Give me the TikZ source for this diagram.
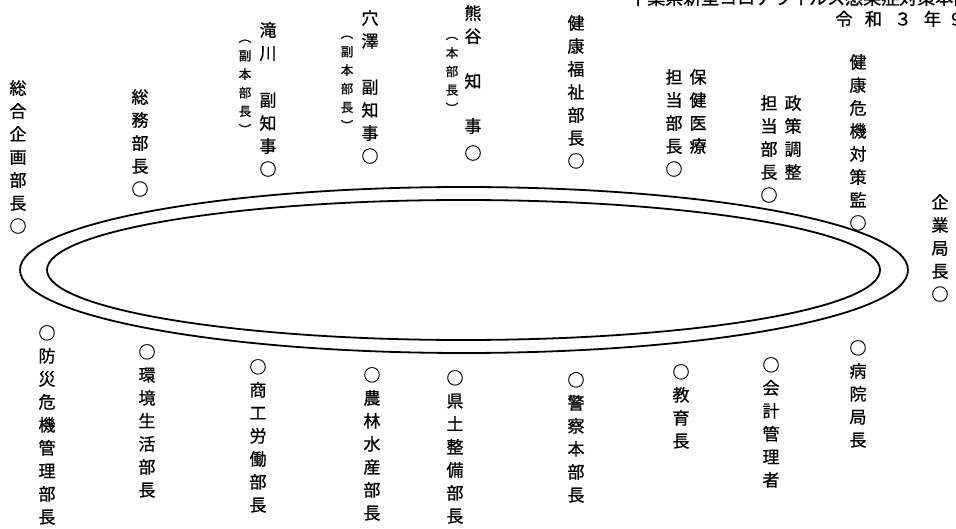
\documentclass[tikz,border=0pt]{standalone}
\usepackage{fontspec}
\setmainfont{Noto Sans CJK JP}[FakeBold=0.8]
\tikzset{
  tate/.style={font=\fontsize{17}{23}\selectfont, align=center, inner sep=0pt, anchor=north},
  tatesmall/.style={font=\fontsize{12.5}{18.5}\selectfont, align=center, inner sep=0pt},
  table line/.style={line width=1.8pt}
}

\begin{document}
\begin{tikzpicture}[x=1pt,y=-1pt]

\clip (0,0) rectangle (956,529); % page frame

%% title (cut off at the top and right)
\node [anchor=base west, inner sep=0pt, font=\fontsize{18}{18}\selectfont] (honbu) at (629,4.5) {千葉県新型コロナウイルス感染症対策本部};
\node [anchor=base west, inner sep=0pt, font=\fontsize{17.5}{17.5}\selectfont] (hiduke) at (835,25.5) {令\hspace{12pt}和\hspace{12pt}３\hspace{12pt}年\hspace{10pt}9};

%% table
\draw [table line] (464,270) ellipse (444pt and 83pt); % outer edge
\draw [table line] (463.5,270) ellipse (416.5pt and 70pt); % inner edge

%% seats above the table
\node [tate] (sogo) at (18,80) {総\\合\\企\\画\\部\\長\\○};
\node [tate] (somu) at (140,89) {総\\務\\部\\長\\○};
\node [tate] (takikawa) at (268,22) {滝\\川\\[24pt]副\\知\\事\\○};
\node [tatesmall] (takikawanote) at (245,87) {︵\\副\\本\\部\\長\\︶};
\node [tate] (anazawa) at (370,10) {穴\\澤\\[23pt]副\\知\\事\\○};
\node [tatesmall] (anazawanote) at (347,83) {︵\\副\\本\\部\\長\\︶};
\node [tate] (kumagai) at (473,5) {熊\\谷\\[22pt]知\\[22pt]事\\[4pt]○};
\node [tatesmall] (kumagainote) at (452,75) {︵\\本\\部\\長\\︶};
\node [tate] (kenko) at (576,15) {健\\康\\福\\祉\\部\\長\\○};
\node [tate] (hoken) at (698,69) {保\\健\\医\\療}; % right column
\node [tate] (hokenbucho) at (674,69) {担\\当\\部\\長\\○}; % left column
\node [tate] (seisaku) at (793,95) {政\\策\\調\\整}; % right column
\node [tate] (seisakubucho) at (769,95) {担\\当\\部\\長\\○}; % left column
\node [tate] (kiki) at (858,54) {健\\康\\危\\機\\対\\策\\監\\○};
\node [tate] (kigyo) at (940,194) {企\\業\\局\\長\\○};

%% seats below the table
\node [tate] (bosai) at (47,325) {○\\防\\災\\危\\機\\管\\理\\部\\長};
\node [tate] (kankyo) at (147,344) {○\\環\\境\\生\\活\\部\\長};
\node [tate] (shoko) at (258,359) {○\\商\\工\\労\\働\\部\\長};
\node [tate] (norin) at (372,367) {○\\農\\林\\水\\産\\部\\長};
\node [tate] (kendo) at (455,370) {○\\県\\土\\整\\備\\部\\長};
\node [tate] (keisatsu) at (576,372) {○\\警\\察\\本\\部\\長};
\node [tate] (kyoiku) at (681,364) {○\\教\\育\\長};
\node [tate] (kaikei) at (771,357) {○\\会\\計\\管\\理\\者};
\node [tate] (byoin) at (858,340) {○\\病\\院\\局\\長};

\end{tikzpicture}
\end{document}
